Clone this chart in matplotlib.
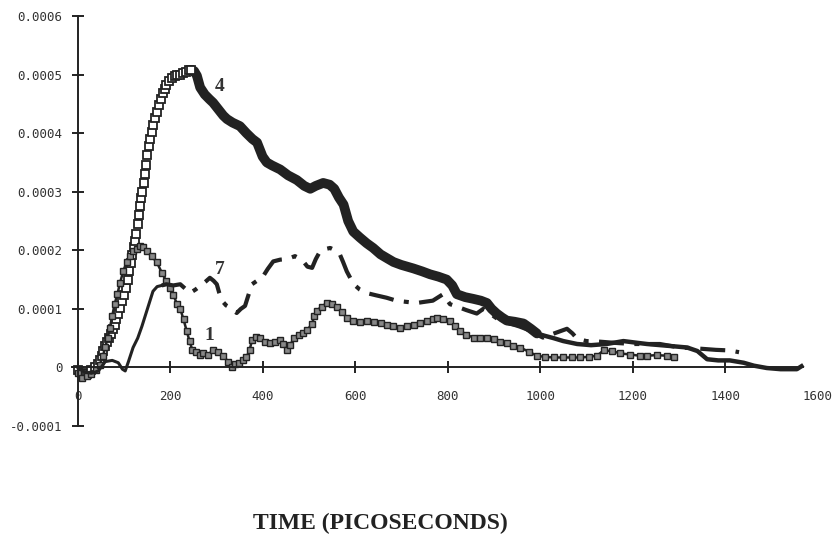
import numpy as np
import matplotlib
matplotlib.use("Agg")
import matplotlib.pyplot as plt

# CURVE 4 (hollow squares on the rise, heavy band on the decay)
t4 = [0, 10, 20, 30, 38, 44, 48,
      52, 56, 60, 64, 68, 72, 76, 80, 84, 88, 92, 96, 100, 104, 108, 112,
      115, 118, 121, 124, 127, 130, 132, 134, 137, 140, 143, 146, 148, 151,
      154, 157, 160, 164, 168, 172, 176, 180, 184, 188, 192, 198, 204, 210,
      216, 222, 228, 234, 240, 246, 252,
      258, 265, 275, 285, 293, 305, 315, 323, 335, 351, 365, 378, 388, 400,
      409, 420, 438, 455, 474, 490, 503, 515, 531, 545, 555, 565, 575, 585,
      596, 610, 625, 639, 655, 670, 683, 700, 726, 745, 762, 780, 798, 810,
      820, 838, 856, 872, 885, 895, 906, 918, 928, 945, 964, 980, 993, 1010,
      1029, 1050, 1080, 1110, 1144, 1180, 1210, 1231, 1260, 1290, 1318, 1340,
      1361, 1385, 1410, 1440, 1462, 1490, 1520, 1555, 1565]
s4 = [-0.000005, -0.00001, -0.000012, -0.000005, 0.0, 0.000006, 0.000012,
      0.00002, 0.000028, 0.000036, 0.000043, 0.00005, 0.000057, 0.000065,
      0.000073, 0.000082, 0.000092, 0.000102, 0.000113, 0.000124, 0.000136,
      0.000149, 0.000165, 0.000178, 0.000192, 0.000205, 0.000216, 0.000228,
      0.000245, 0.00026, 0.000275, 0.00029, 0.0003, 0.000315, 0.00033,
      0.000345, 0.000362, 0.000378, 0.00039, 0.000402, 0.000414, 0.000426,
      0.000436, 0.000448, 0.000458, 0.000468, 0.000476, 0.000483, 0.000489,
      0.000494, 0.000497, 0.0005, 0.0005, 0.000502, 0.000505, 0.000507,
      0.000508, 0.000506,
      0.000498, 0.000478, 0.000466, 0.000458, 0.000452, 0.00044, 0.00043,
      0.000424, 0.000418, 0.000412, 0.0004, 0.00039, 0.000384, 0.00036,
      0.00035, 0.000345, 0.000338, 0.000328, 0.00032, 0.00031, 0.000305,
      0.00031, 0.000315, 0.000312, 0.000305, 0.00029, 0.000278, 0.00025,
      0.000232, 0.000222, 0.000212, 0.000204, 0.000193, 0.000186, 0.00018,
      0.000175, 0.000169, 0.000164, 0.000159, 0.000155, 0.00015, 0.00014,
      0.000125, 0.00012, 0.000117, 0.000114, 0.00011, 0.0001, 0.000092,
      0.000085, 0.00008, 0.000078, 0.000075, 0.000066, 0.000058, 0.000054,
      0.00005, 0.000045, 0.00004, 0.000038, 0.00004, 0.000045, 0.000042,
      0.00004, 0.000038, 0.000036, 0.000034, 0.000028, 0.000014, 0.000012,
      0.000012, 0.000008, 0.000003, -0.000001, -0.000003, -0.000003, 0.000002]

# CURVE 1 (dark square markers)
t1 = [0, 10, 20, 30, 40, 48, 55, 60, 65, 70, 75, 80, 86, 92, 99, 106, 113,
      120, 128, 135, 141, 150, 160, 171, 182, 192, 200, 207, 215, 222, 229,
      236, 242, 248, 256, 264, 272, 282, 293, 304, 315, 325, 334, 341, 348,
      357, 365, 372, 377, 385, 394, 405, 416, 427, 437, 445, 452, 460, 467,
      478, 488, 497, 507, 512, 517, 528, 539, 550, 561, 572, 582, 595, 610,
      625, 640, 655, 668, 682, 697, 712, 727, 741, 755, 768, 777, 790, 805,
      815, 827, 840, 856, 870, 885, 900, 914, 928, 942, 957, 975, 993, 1010,
      1029, 1050, 1068, 1087, 1105, 1123, 1137, 1155, 1173, 1195, 1215, 1231,
      1252, 1274, 1290]
s1 = [-0.00001, -0.000018, -0.000015, -0.000012, -0.000005, 0.000005,
      0.00002, 0.000035, 0.00005, 0.000068, 0.000088, 0.000108, 0.000125,
      0.000145, 0.000165, 0.00018, 0.00019, 0.000198, 0.000203, 0.000207,
      0.000205, 0.000198, 0.00019, 0.00018, 0.000162, 0.000147, 0.000135,
      0.000124, 0.000108, 0.0001, 0.000082, 0.000062, 0.000045, 0.00003,
      0.000026, 0.000022, 0.000024, 0.000022, 0.000029, 0.000026, 0.00002,
      0.00001, 0.0, 0.000006, 0.000008, 0.000012, 0.000017, 0.00003,
      0.000046, 0.000052, 0.00005, 0.000044, 0.000042, 0.000044, 0.000046,
      0.00004, 0.000029, 0.000038, 0.00005, 0.000055, 0.000058, 0.000064,
      0.000075, 0.000088, 0.000097, 0.000104, 0.00011, 0.000108, 0.000104,
      0.000094, 0.000085, 0.00008, 0.000078, 0.000079, 0.000077, 0.000076,
      0.000072, 0.00007, 0.000068, 0.00007, 0.000073, 0.000076, 0.00008,
      0.000083, 0.000084, 0.000082, 0.00008, 0.00007, 0.000063, 0.000056,
      0.000051, 0.00005, 0.000051, 0.000048, 0.000044, 0.000041, 0.000037,
      0.000034, 0.000027, 0.00002, 0.000018, 0.000017, 0.000017, 0.000017,
      0.000017, 0.000018, 0.00002, 0.000029, 0.000028, 0.000024, 0.000022,
      0.00002, 0.00002, 0.000021, 0.00002, 0.000018]

# CURVE 7 (dash-dot)
t7 = [0, 15, 30, 45, 60, 75, 88, 97, 103, 110, 120, 130, 139, 147, 155, 163,
      172, 182, 192, 207, 222, 232, 243, 255, 265, 276, 286, 294, 301, 306,
      312, 321, 330, 337, 344, 353, 362, 370, 377, 388, 399, 411, 423, 438,
      453, 470, 485, 497, 507, 515, 524, 535, 546, 557, 567, 574, 582, 590,
      597, 610, 625, 646, 668, 689, 710, 733, 750, 768, 780, 790, 798, 805,
      820, 840, 863, 877, 895, 913, 935, 955, 978, 993, 1006, 1030, 1058,
      1070, 1080, 1100, 1129, 1160, 1201, 1230, 1259, 1280, 1302, 1325, 1346,
      1380, 1410, 1430]
s7 = [0.0, -0.000008, -0.00001, -0.000006, 0.00001, 0.000012, 0.000008,
      -0.000003, -0.000006, 0.00001, 0.000034, 0.00005, 0.00007, 0.00009,
      0.00011, 0.00013, 0.000138, 0.00014, 0.000142, 0.00014, 0.000142,
      0.000135, 0.000127, 0.000133, 0.000139, 0.000146, 0.000153, 0.000148,
      0.000142, 0.000128, 0.000114, 0.000106, 0.000102, 0.000097, 0.000093,
      0.0001, 0.000105, 0.000125, 0.000142, 0.000148, 0.000153, 0.000168,
      0.000181, 0.000184, 0.000185, 0.00019, 0.000184, 0.000172, 0.00017,
      0.000185, 0.000198, 0.000202, 0.000204, 0.0002, 0.000193, 0.00018,
      0.000164, 0.000152, 0.000142, 0.000133, 0.000127, 0.000123, 0.000119,
      0.000114, 0.000112, 0.00011, 0.000112, 0.000114, 0.00012, 0.000125,
      0.000116, 0.000108, 0.000104, 0.000098, 0.000092, 0.0001, 0.00009,
      0.00008, 0.000075, 0.00007, 0.000063, 0.000056, 0.000051, 0.000058,
      0.000066, 0.000058, 0.000049, 0.000045, 0.000044, 0.000042, 0.00004,
      0.00004, 0.00004, 0.000037, 0.000034, 0.000033, 0.000032, 0.00003,
      0.000029, 0.000026]

# CURVE LABELS
curve_names = ["4", "7", "1"]
label_x = [307, 307, 285]
label_y = [0.00048, 0.000168, 0.000054]

x_ticks = [0, 200, 400, 600, 800, 1000, 1200, 1400, 1600]
y_ticks = [-0.0001, 0, 0.0001, 0.0002, 0.0003, 0.0004, 0.0005, 0.0006]
y_tick_labels = ["-0.0001", "0", "0.0001", "0.0002", "0.0003",
                 "0.0004", "0.0005", "0.0006"]

ink = "#222222"

fig = plt.figure(figsize=(8.33, 5.37), dpi=100)
ax = fig.add_axes([0.0848, 0.2067, 0.8968, 0.7635])

t4 = np.array(t4)
s4 = np.array(s4)
peak = int(np.argmax(s4))

# curve 4: heavy band for the decay, hollow squares for the rise
decay = t4 >= t4[peak]
ax.plot(t4[decay & (t4 <= 1000)], s4[decay & (t4 <= 1000)],
        color=ink, lw=7, solid_capstyle="round", solid_joinstyle="round")
late = t4 >= 990
ax.plot(t4[late], s4[late], color=ink, lw=3.2)
ax.plot(t4[:peak + 1], s4[:peak + 1], ls="none", marker="s", ms=6,
        mfc="white", mec=ink, mew=1.3)

# curve 1
ax.plot(t1, s1, color=ink, lw=1.8, marker="s", ms=4.5,
        mfc="#888888", mec=ink, mew=1.0)

# curve 7: solid start then dash-dot
t7 = np.array(t7)
s7 = np.array(s7)
start = t7 <= 182
ax.plot(t7[start], s7[start], color=ink, lw=2.2)
ax.plot(t7[t7 >= 182], s7[t7 >= 182], color=ink, lw=3,
        dashes=(6, 2.5, 1.2, 2.5))

for name, lx, ly in zip(curve_names, label_x, label_y):
    ax.text(lx, ly, name, fontsize=14, fontweight="bold",
            family="Liberation Serif", color="#333333",
            ha="center", va="center")

ax.set_xlim(-15, 1600)
ax.set_ylim(-0.0001, 0.0006)
ax.spines["top"].set_visible(False)
ax.spines["right"].set_visible(False)
ax.spines["left"].set_position(("data", 0))
ax.spines["bottom"].set_position(("data", 0))
ax.spines["bottom"].set_bounds(-12, 1568)
for side in ["left", "bottom"]:
    ax.spines[side].set_linewidth(1.4)
    ax.spines[side].set_color(ink)

ax.set_xticks(x_ticks)
ax.set_xticklabels([str(v) for v in x_ticks])
ax.set_yticks(y_ticks)
ax.set_yticklabels(y_tick_labels)
ax.tick_params(axis="x", direction="inout", length=9, width=1.4,
               color=ink, pad=12, labelsize=9, labelcolor="#333333")
ax.tick_params(axis="y", direction="inout", length=8, width=1.4,
               color=ink, pad=7, labelsize=9, labelcolor="#333333")
for lab in ax.get_xticklabels() + ax.get_yticklabels():
    lab.set_family("DejaVu Sans Mono")
# hide the 1600 tick mark, keep its label
ax.xaxis.get_major_ticks()[-1].tick1line.set_visible(False)

fig.text(380 / 833, 1 - 523 / 537, "TIME (PICOSECONDS)",
         fontsize=17, fontweight="bold", family="Liberation Serif",
         color="#222222", ha="center", va="center")

fig.savefig("out.png", dpi=100)
